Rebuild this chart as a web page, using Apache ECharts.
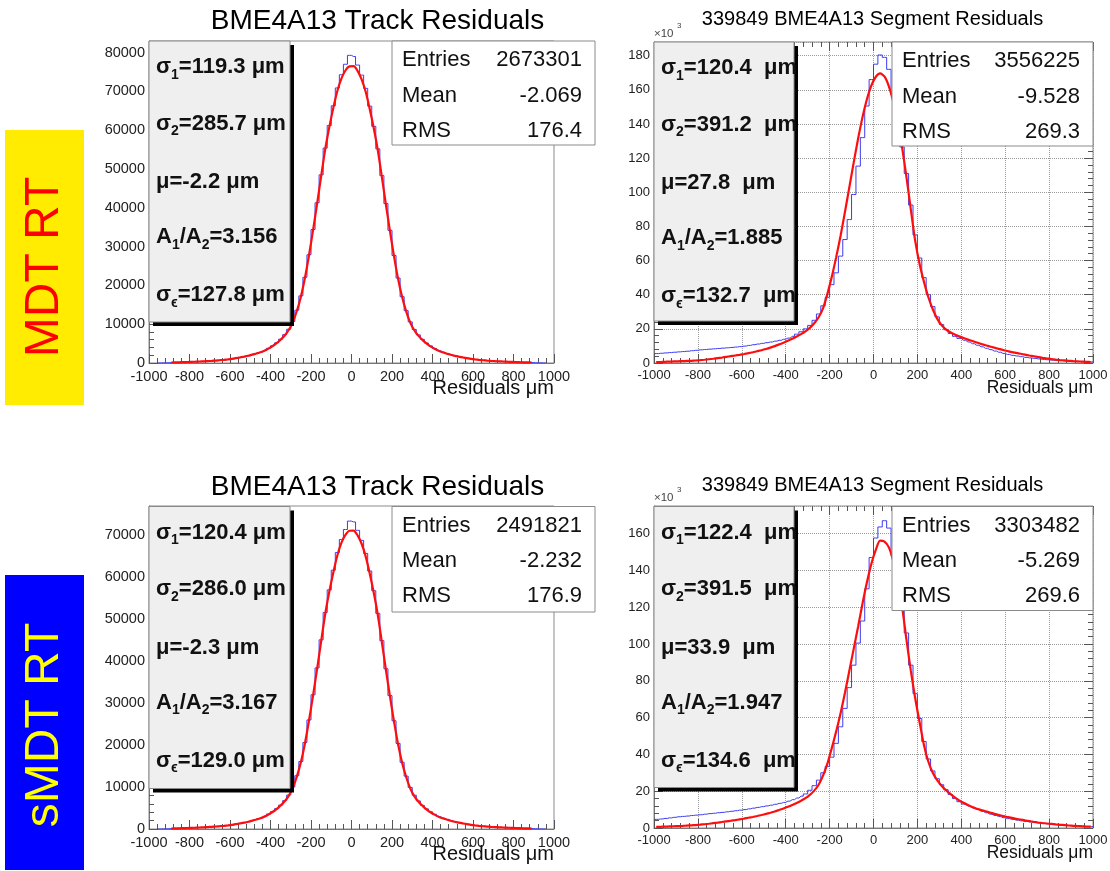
<!DOCTYPE html>
<html>
<head>
<meta charset="utf-8">
<script src="https://cdn.jsdelivr.net/npm/echarts@6/dist/echarts.min.js"></script>
<style>html,body{margin:0;padding:0;background:#fff}#chart{width:1110px;height:871px}</style>
</head>
<body>
<div id="chart"></div>
<script>
// ---------------- DATA ----------------
const binCenters = [-990,-970,-950,-930,-910,-890,-870,-850,-830,-810,-790,-770,-750,-730,-710,-690,-670,-650,-630,-610,
 -590,-570,-550,-530,-510,-490,-470,-450,-430,-410,-390,-370,-350,-330,-310,-290,-270,-250,-230,-210,
 -190,-170,-150,-130,-110,-90,-70,-50,-30,-10,10,30,50,70,90,110,130,150,170,190,
 210,230,250,270,290,310,330,350,370,390,410,430,450,470,490,510,530,550,570,590,
 610,630,650,670,690,710,730,750,770,790,810,830,850,870,890,910,930,950,970,990];
const xTicks = [-1000,-800,-600,-400,-200,0,200,400,600,800,1000];

// MDT RT - track residuals (entries per bin)
const trackHistMDT = [null,null,10,30,60,110,140,170,200,240,280,320,360,410,470,530,610,700,800,920,
 1060,1230,1420,1620,1850,2150,2450,2800,3250,3800,4450,5200,6150,7300,8700,10700,13600,17300,22100,27900,
 34400,41300,48500,55400,61200,66300,70900,74300,77000,79300,
 79000,76800,74200,70800,66200,61000,55200,48300,41100,34200,27700,21900,17100,13500,10600,8650,7250,6100,5150,4400,
 3750,3200,2780,2430,2130,1840,1610,1410,1220,1050,910,790,690,600,525,465,405,355,315,275,
 235,195,165,135,105,60,30,10,null,null];
const trackFitMDT = [null,null,null,null,null,130,155,185,220,260,300,340,385,435,490,555,630,720,820,940,
 1080,1260,1450,1650,1870,2150,2450,2770,3170,3700,4350,5100,6000,7100,8500,10500,13400,17100,21900,27700,
 34200,41000,48100,55000,60700,65700,70100,73300,75400,76450,
 76500,75300,73100,69900,65500,60500,54800,47900,40800,34000,27500,21700,17000,13300,10400,8450,7050,5950,5050,4300,
 3660,3140,2750,2430,2130,1850,1630,1430,1250,1070,930,810,710,625,550,485,430,380,335,295,
 255,215,180,150,125,null,null,null,null,null];

// MDT RT - segment residuals (x10^3 entries per bin)
const segHistMDT = [5.5,5.7,5.9,6.1,6.3,6.5,6.7,6.9,7.2,7.45,7.7,7.9,8.1,8.3,8.5,8.7,8.9,9.1,9.35,9.6,
 9.9,10.3,10.7,11.1,11.5,11.9,12.3,12.8,13.3,13.9,14.6,15.6,16.9,18.3,20.0,22.0,25.0,28.7,33.5,38.5,
 45.9,52.8,62.6,72.3,84.0,98.7,115.3,132.0,150.5,166.0,
 175.0,180.4,179.0,172.0,157.0,141.5,126.5,111.0,92.5,75.0,61.5,50.0,40.0,33.0,27.0,22.5,19.5,17.3,15.6,14.4,
 13.3,12.3,11.3,10.4,9.5,8.6,7.8,7.0,6.3,5.6,5.0,4.5,4.1,3.7,3.3,3.0,2.7,2.4,2.1,1.9,
 1.7,1.5,1.35,1.2,1.1,1.0,0.9,0.8,0.7,0.6];
const segFitMDT = [0.5,0.6,0.7,0.8,0.9,1.0,1.1,1.2,1.3,1.45,1.65,1.9,2.2,2.5,2.85,3.2,3.6,4.0,4.4,4.8,
 5.25,5.75,6.3,6.9,7.5,8.2,9.0,9.9,10.9,11.9,13.0,14.2,15.5,16.9,18.5,20.6,23.3,26.8,32.0,40.5,
 50.5,62.0,74.5,88.5,103.0,117.5,131.5,144.0,154.5,162.5,
 167.5,169.6,167.8,162.0,153.0,141.5,126.5,109.0,90.0,71.5,58.0,47.5,38.5,31.5,26.0,22.2,19.7,18.0,16.7,15.6,
 14.6,13.7,12.9,12.0,11.2,10.4,9.7,9.0,8.3,7.6,7.0,6.4,5.9,5.4,4.9,4.4,3.95,3.5,3.05,2.65,
 2.25,1.95,1.7,1.5,1.3,1.1,0.95,0.8,0.7,0.6];

// sMDT RT - track residuals
const trackHistSMDT = [null,null,10,25,55,100,130,160,190,225,260,300,340,385,440,500,570,650,740,850,
 980,1140,1320,1510,1730,2000,2300,2620,3020,3550,4150,4850,5700,6750,8100,10000,12700,16100,20600,26000,
 32000,38400,45100,51600,57000,61700,65900,69000,71400,73400,
 73200,71200,68800,65700,61500,56800,51400,44900,38200,31800,25800,20400,15900,12600,9900,8050,6700,5650,4800,4100,
 3500,2980,2590,2280,1980,1710,1490,1300,1130,970,840,730,640,560,490,430,375,330,290,255,
 220,185,155,125,95,55,25,10,null,null];
const trackFitSMDT = [null,null,null,null,null,120,145,170,205,240,280,315,360,405,455,520,590,670,760,870,
 1000,1170,1350,1530,1740,2000,2280,2580,2950,3450,4050,4750,5600,6600,7900,9800,12500,15900,20400,25800,
 31800,38100,44700,51200,56500,61100,65200,68200,70100,71100,
 71150,70000,68000,65000,60900,56300,51000,44500,37900,31600,25600,20200,15800,12400,9700,7850,6550,5550,4700,4000,
 3420,2920,2560,2260,1980,1720,1510,1330,1160,990,860,750,660,580,510,450,400,355,310,275,
 235,200,165,140,115,null,null,null,null,null];

// sMDT RT - segment residuals (x10^3)
const segHistSMDT = [4.7,4.9,5.2,5.5,5.8,6.1,6.3,6.5,6.8,7.0,7.2,7.5,7.8,8.0,8.3,8.5,8.8,9.1,9.4,9.7,
 10.0,10.4,10.8,11.2,11.6,12.0,12.4,12.9,13.4,13.9,14.6,15.4,16.3,17.3,18.5,20.5,23.0,26.0,30.0,33.5,
 38.5,46.0,55.0,65.0,76.3,88.5,100.5,112.5,130.0,147.0,
 157.6,163.6,167.0,163.0,148.0,136.0,123.0,106.0,88.5,73.0,59.5,47.0,37.5,31.0,26.8,23.5,20.8,18.2,16.0,14.3,
 13.0,12.0,11.0,10.0,9.1,8.3,7.5,6.8,6.2,5.6,5.1,4.7,4.3,3.9,3.6,3.3,3.0,2.7,2.5,2.3,
 2.1,1.9,1.7,1.5,1.35,1.2,1.05,0.9,0.8,0.7];
const segFitSMDT = [0.6,0.65,0.75,0.85,0.95,1.05,1.15,1.3,1.45,1.6,1.8,2.05,2.3,2.6,2.9,3.25,3.6,3.95,4.3,4.7,
 5.1,5.55,6.0,6.5,7.05,7.65,8.3,9.0,9.8,10.6,11.5,12.5,13.6,14.8,16.2,18.0,20.3,23.5,28.5,35.0,
 43.5,52.5,62.4,73.5,85.5,97.5,109.5,122.0,133.5,143.5,
 151.0,156.2,155.6,152.5,145.0,133.5,120.5,102.5,85.5,70.5,57.5,45.0,36.0,30.0,26.0,23.0,20.6,18.5,16.6,15.0,
 13.7,12.5,11.4,10.5,9.8,9.1,8.4,7.7,7.1,6.5,6.0,5.5,5.0,4.6,4.15,3.75,3.35,3.0,2.7,2.45,
 2.2,1.95,1.75,1.55,1.35,1.2,1.05,0.9,0.8,0.7];

// Text content
const rowLabels = ['MDT RT', 'sMDT RT'];
const titleTrack = 'BME4A13 Track Residuals';
const titleSeg = '339849 BME4A13 Segment Residuals';
const xAxisTitle = 'Residuals μm';
const statNames = ['Entries', 'Mean', 'RMS'];
const statsTrackMDT = ['2673301', '-2.069', '176.4'];
const statsSegMDT = ['3556225', '-9.528', '269.3'];
const statsTrackSMDT = ['2491821', '-2.232', '176.9'];
const statsSegSMDT = ['3303482', '-5.269', '269.6'];
// sigma1, sigma2, mu, A1/A2, sigma_eps
const fitTrackMDT = ['119.3', '285.7', '-2.2', '3.156', '127.8'];
const fitSegMDT = ['120.4', '391.2', '27.8', '1.885', '132.7'];
const fitTrackSMDT = ['120.4', '286.0', '-2.3', '3.167', '129.0'];
const fitSegSMDT = ['122.4', '391.5', '33.9', '1.947', '134.6'];

// ---------------- LAYOUT ----------------
const FONT = '"Liberation Sans", Arial, Helvetica, sans-serif';
const panels = [
  {grid:{left:149, top:41, width:405, height:322}, ymax:83000, yint:10000, seg:false,
   hist:trackHistMDT, fit:trackFitMDT, stats:statsTrackMDT, fitp:fitTrackMDT, title:titleTrack,
   titleY:21, statBox:[392,41,203,104], fitBox:[149,41,141,281]},
  {grid:{left:654, top:42, width:439, height:321}, ymax:188, yint:20, seg:true,
   hist:segHistMDT, fit:segFitMDT, stats:statsSegMDT, fitp:fitSegMDT, title:titleSeg,
   titleY:19, statBox:[892,42,201,104], fitBox:[654,42,140,279]},
  {grid:{left:149, top:506, width:405, height:323}, ymax:77000, yint:10000, seg:false,
   hist:trackHistSMDT, fit:trackFitSMDT, stats:statsTrackSMDT, fitp:fitTrackSMDT, title:titleTrack,
   titleY:487, statBox:[392,506.5,203,105.5], fitBox:[149,506.5,141,282]},
  {grid:{left:654, top:506, width:439, height:322}, ymax:175, yint:20, seg:true,
   hist:segHistSMDT, fit:segFitSMDT, stats:statsSegSMDT, fitp:fitSegSMDT, title:titleSeg,
   titleY:485, statBox:[892,506.5,201,104], fitBox:[654,506.5,140,281]}
];

const grids = [], xAxes = [], yAxes = [], series = [], graphics = [];
const tickColor = '#555';
const plainNum = v => String(v);

function histData(h) {
  const d = [[-1000, h[0]]];
  binCenters.forEach((x, i) => d.push([x, h[i]]));
  d.push([1000, h[h.length - 1]]);
  return d;
}

function tickCfg() {
  return {
    axisTick:{show:true, inside:true, length:9, lineStyle:{color:tickColor}},
    minorTick:{show:true, splitNumber:5, length:5, lineStyle:{color:tickColor}}
  };
}

panels.forEach((p, gi) => {
  grids.push(Object.assign({show:true, borderColor:'#8a8a8a', borderWidth:1, backgroundColor:'transparent',
    containLabel:false, outerBoundsMode:'none'}, p.grid));
  const lblSize = p.seg ? 13 : 14.5;
  const xi = xAxes.length;
  xAxes.push(Object.assign({gridIndex:gi, type:'value', min:xTicks[0], max:xTicks[xTicks.length-1], interval:200,
    axisLine:{show:true, onZero:false, lineStyle:{color:'#777'}},
    axisLabel:{fontSize:lblSize, color:'#222', margin:6, fontFamily:FONT, formatter:plainNum},
    splitLine:{show:p.seg, lineStyle:{type:'dotted', color:'#9a9a9a', width:1}}}, tickCfg()));
  const yi = yAxes.length;
  yAxes.push(Object.assign({gridIndex:gi, type:'value', min:0, max:p.ymax, interval:p.yint,
    axisLine:{show:true, onZero:false, lineStyle:{color:'#777'}},
    axisLabel:{fontSize:lblSize, color:'#222', margin:4, fontFamily:FONT, showMaxLabel:false, formatter:plainNum},
    splitLine:{show:p.seg, lineStyle:{type:'dotted', color:'#9a9a9a', width:1}}}, tickCfg()));
  if (p.seg) {
    xAxes.push(Object.assign({gridIndex:gi, type:'value', position:'top', min:-1000, max:1000, interval:200,
      axisLine:{show:false, onZero:false}, axisLabel:{show:false}, splitLine:{show:false}}, tickCfg()));
    yAxes.push(Object.assign({gridIndex:gi, type:'value', position:'right', min:0, max:p.ymax, interval:p.yint,
      axisLine:{show:false, onZero:false}, axisLabel:{show:false}, splitLine:{show:false}}, tickCfg()));
  }
  series.push({type:'line', xAxisIndex:xi, yAxisIndex:yi, step:'middle', showSymbol:false, symbol:'none',
    data:histData(p.hist), lineStyle:{color:'#3b3bf2', width:1}, z:3, silent:true});
  series.push({type:'line', xAxisIndex:xi, yAxisIndex:yi, smooth:0.25, showSymbol:false, symbol:'none',
    data:binCenters.map((x, i) => [x, p.fit[i]]), connectNulls:false,
    lineStyle:{color:'#ff0d0d', width:2.2}, z:4, silent:true});

  // Title
  const g = p.grid;
  const titleX = p.seg ? 872.5 : 377.5;
  graphics.push({type:'text', x:titleX, y:p.titleY, z:50, style:{text:p.title, fontFamily:FONT,
    fontSize:p.seg ? 20 : 28, fill:'#000', textAlign:'center', textVerticalAlign:'middle'}});
  // x axis title
  graphics.push({type:'text', x:g.left + g.width, y:g.top + g.height + 25, z:50, style:{text:xAxisTitle,
    fontFamily:FONT, fontSize:p.seg ? 17.5 : 20, fill:'#111', textAlign:'right', textVerticalAlign:'middle'}});
  if (p.seg) {
    graphics.push({type:'text', x:g.left, y:g.top - 8, z:50, style:{text:'×10', fontFamily:FONT, fontSize:11.5,
      fill:'#444', textAlign:'left', textVerticalAlign:'middle'}});
    graphics.push({type:'text', x:g.left + 23, y:g.top - 16, z:50, style:{text:'3', fontFamily:FONT, fontSize:8,
      fill:'#444', textAlign:'left', textVerticalAlign:'middle'}});
  }
  // Stats box
  const sb = p.statBox;
  graphics.push({type:'rect', z:60, shape:{x:sb[0], y:sb[1], width:sb[2], height:sb[3]},
    style:{fill:'#fff', stroke:'#8a8a8a', lineWidth:1}});
  const statRows = [19, 54.5, 89.5];
  statNames.forEach((n, k) => {
    graphics.push({type:'text', z:61, x:sb[0] + 10, y:sb[1] + statRows[k], style:{text:n, fontFamily:FONT,
      fontSize:22, fill:'#111', textAlign:'left', textVerticalAlign:'middle'}});
    graphics.push({type:'text', z:61, x:sb[0] + sb[2] - 13, y:sb[1] + statRows[k], style:{text:p.stats[k],
      fontFamily:FONT, fontSize:22, fill:'#111', textAlign:'right', textVerticalAlign:'middle'}});
  });
  // Fit box with shadow
  const fb = p.fitBox;
  graphics.push({type:'rect', z:60, shape:{x:fb[0] + 4, y:fb[1] + 4, width:fb[2], height:fb[3]},
    style:{fill:'#000'}});
  graphics.push({type:'rect', z:61, shape:{x:fb[0], y:fb[1], width:fb[2], height:fb[3]},
    style:{fill:'#efefef', stroke:'#8a8a8a', lineWidth:1}});
  const gap = p.seg ? '  ' : ' ';
  const fp = p.fitp;
  const lines = [
    '{m|σ}{s|1}{m|=' + fp[0] + gap + 'μm}',
    '{m|σ}{s|2}{m|=' + fp[1] + gap + 'μm}',
    '{m|μ=' + fp[2] + gap + 'μm}',
    '{m|A}{s|1}{m|/A}{s|2}{m|=' + fp[3] + '}',
    '{m|σ}{s|ϵ}{m|=' + fp[4] + gap + 'μm}'
  ];
  const fitRows = [26, 82.5, 141, 196, 254];
  lines.forEach((t, k) => {
    graphics.push({type:'text', z:62, x:fb[0] + 7, y:fb[1] + fitRows[k], style:{text:t,
      textAlign:'left', textVerticalAlign:'middle',
      rich:{
        m:{fontFamily:FONT, fontSize:22, fontWeight:'bold', fill:'#111', lineHeight:30, verticalAlign:'middle'},
        s:{fontFamily:FONT, fontSize:14, fontWeight:'bold', fill:'#111', lineHeight:12, verticalAlign:'bottom'}
      }}});
  });
});

// Row labels
graphics.push({type:'rect', z:10, shape:{x:5, y:130, width:79, height:275}, style:{fill:'#ffec00'}});
graphics.push({type:'text', z:11, x:45, y:267, rotation:Math.PI / 2, style:{text:rowLabels[0], fontFamily:FONT,
  fontSize:48, fill:'#ff0000', textAlign:'center', textVerticalAlign:'middle'}});
graphics.push({type:'rect', z:10, shape:{x:5, y:575, width:79, height:295}, style:{fill:'#0000ff'}});
graphics.push({type:'text', z:11, x:45, y:725, rotation:Math.PI / 2, style:{text:rowLabels[1], fontFamily:FONT,
  fontSize:48, fill:'#ffff00', textAlign:'center', textVerticalAlign:'middle'}});

const chart = echarts.init(document.getElementById('chart'), null, {renderer:'canvas'});
chart.setOption({
  animation:false,
  backgroundColor:'#fff',
  grid:grids, xAxis:xAxes, yAxis:yAxes, series:series,
  graphic:{elements:graphics}
});
</script>
</body>
</html>
